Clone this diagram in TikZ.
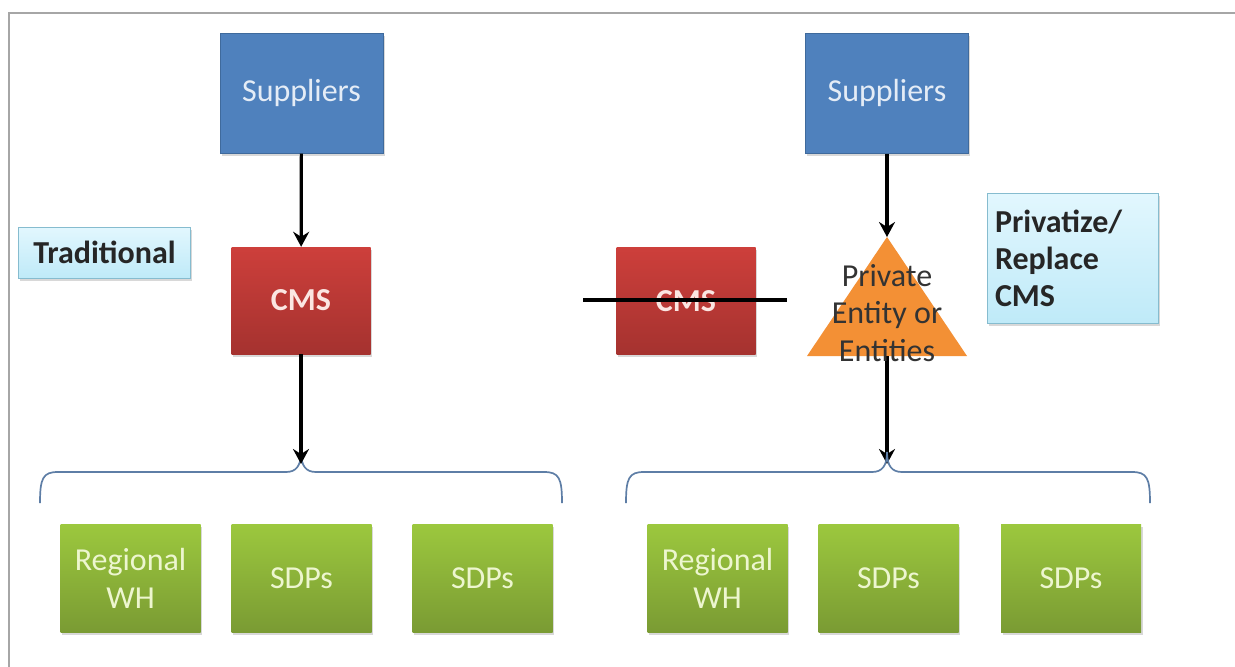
\documentclass[tikz,border=0pt]{standalone}
\usepackage{fontspec}
\setmainfont{Carlito}
\usetikzlibrary{arrows.meta,shadows}

\definecolor{supfill}{HTML}{4F81BD}
\definecolor{supedge}{HTML}{3F6A9C}
\definecolor{suptext}{HTML}{E4ECF6}
\definecolor{cmstop}{HTML}{CD3F3B}
\definecolor{cmsbot}{HTML}{A5322F}
\definecolor{cmstext}{HTML}{FBE6E2}
\definecolor{grntop}{HTML}{9CC83E}
\definecolor{grnbot}{HTML}{7A9B33}
\definecolor{grntext}{HTML}{EDF6CF}
\definecolor{notetop}{HTML}{E2F7FE}
\definecolor{notebot}{HTML}{BFEAF8}
\definecolor{noteedge}{HTML}{86BCCF}
\definecolor{orangetri}{HTML}{F39035}
\definecolor{bracecol}{HTML}{5E7EA6}
\definecolor{framecol}{HTML}{A6A6A6}

\tikzset{
  box/.style={inner sep=0pt, align=center, font=\fontsize{32}{38}\selectfont,
    drop shadow={opacity=0.3, shadow xshift=1.5pt, shadow yshift=-2.5pt}},
  supbox/.style={box, fill=supfill, draw=supedge, line width=1pt, text=suptext,
    minimum width=163pt, minimum height=120pt},
  cmsbox/.style={box, top color=cmstop, bottom color=cmsbot, text=cmstext,
    font=\fontsize{32}{38}\selectfont\bfseries, minimum width=139pt, minimum height=107pt},
  grnbox/.style={box, top color=grntop, bottom color=grnbot, text=grntext,
    minimum width=140pt, minimum height=108pt},
  notebox/.style={box, top color=notetop, bottom color=notebot, draw=noteedge, line width=1pt,
    font=\fontsize{32}{37}\selectfont\bfseries, text=black!85},
  arr/.style={line width=3.2pt, -{Stealth[length=15pt, width=16pt, inset=5pt]}},
  bracepath/.style={draw=bracecol, line width=1.7pt},
}

\begin{document}
\begin{tikzpicture}[x=1pt, y=-1pt]
  \useasboundingbox (0,0) rectangle (1235,667);
  \fill[white] (0,0) rectangle (1235,667);

  % page frame
  \draw[framecol, line width=2.6pt] (9,667) -- (9,13) -- (1235,13);

  % ---------- traditional chain ----------
  \node[supbox] (supL) at (301.5,93) {Suppliers};
  \node[cmsbox] (cmsL) at (301,300.5) {CMS};
  \node[notebox, minimum width=172pt, minimum height=51pt] (trad) at (104.5,252.5) {Traditional};

  \coordinate (cuspL) at (301,452);
  \draw[bracepath] (40,503) .. controls (40,478) and (43,472) .. (58,472)
     -- (286,472) .. controls (296,472) and (301,466) .. (cuspL)
     .. controls (301,466) and (306,472) .. (316,472)
     -- (544,472) .. controls (559,472) and (562,478) .. (562,503);

  \draw[arr] (supL) -- (cmsL);
  \draw[arr] (cmsL) -- ([yshift=-12pt]cuspL);

  \node[grnbox] (rwhL) at (130.5,578) {Regional\\WH};
  \node[grnbox] (sdpL1) at (301.5,578) {SDPs};
  \node[grnbox] (sdpL2) at (482.5,578) {SDPs};

  % ---------- privatized chain ----------
  \node[supbox] (supR) at (887,93) {Suppliers};

  \node[cmsbox] (cmsR) at (686,301) {CMS};
  \draw[line width=3.6pt] ([xshift=-33pt]cmsR.west |- 0,300) coordinate (strikeA)
     -- ([xshift=31pt]cmsR.east |- 0,300) coordinate (strikeB);

  \coordinate (apex) at (887,237);
  \coordinate (baseC) at (887,356);
  \fill[orangetri] (apex) -- (967,356) -- (807,356) -- cycle;
  \draw[arr] (supR) -- (apex);

  \coordinate (cuspR) at (887,452);
  \draw[line width=3.2pt] (baseC) -- (887,420);
  \node[inner sep=0pt, align=center, text=black!80, font=\fontsize{32}{37.5}\selectfont]
     (priv) at (887,313) {Private\\Entity or\\Entities};
  \draw[arr] (887,418) -- ([yshift=-12pt]cuspR);

  \draw[bracepath] (626,503) .. controls (626,478) and (629,472) .. (644,472)
     -- (872,472) .. controls (882,472) and (887,466) .. (cuspR)
     .. controls (887,466) and (892,472) .. (902,472)
     -- (1132,472) .. controls (1147,472) and (1150,478) .. (1150,503);

  \node[notebox, minimum width=171pt, minimum height=130pt, align=left,
        text width=155pt] (priv note) at (1072.5,258) {Privatize/\\Replace\\CMS};

  \node[grnbox] (rwhR) at (717.5,578) {Regional\\WH};
  \node[grnbox] (sdpR1) at (888.5,578) {SDPs};
  \node[grnbox] (sdpR2) at (1071,578) {SDPs};
\end{tikzpicture}
\end{document}
